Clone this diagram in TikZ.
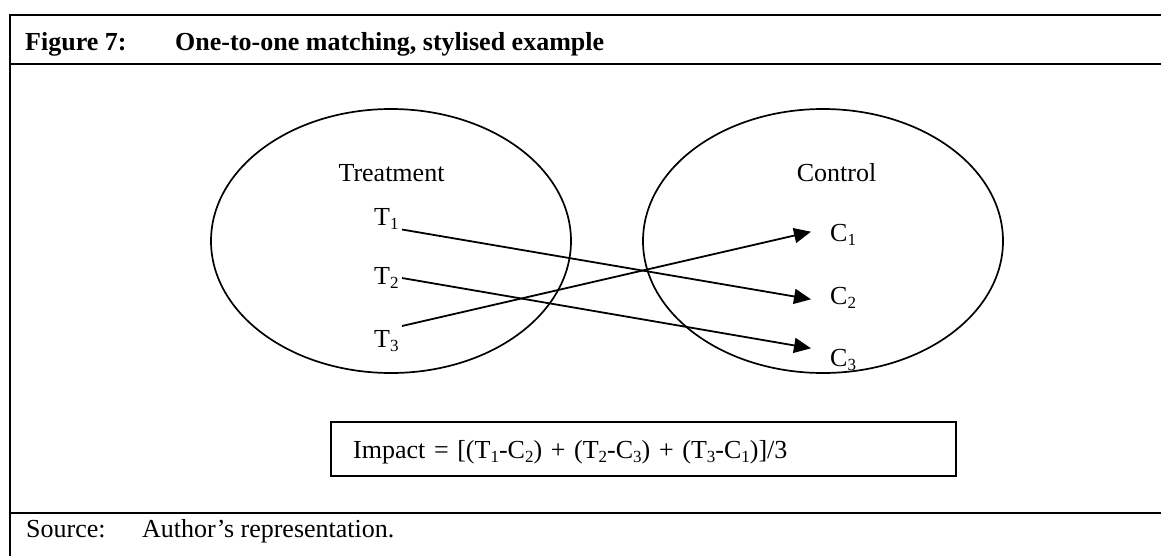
\documentclass[tikz,border=0pt]{standalone}
\usepackage{fontspec}
\setmainfont{Liberation Serif}
\usetikzlibrary{shapes.geometric,arrows.meta}
\newcommand{\sbs}[1]{\raisebox{-4pt}{\fontsize{17}{17}\selectfont #1}}
\begin{document}
\begin{tikzpicture}[x=1pt,y=-1pt,
  font=\fontsize{26}{30}\selectfont,
  txt/.style={inner sep=0pt, anchor=base west},
  ctxt/.style={inner sep=0pt, anchor=base},
  frameline/.style={line width=2.8pt},
  setshape/.style={draw, ellipse, line width=1.7pt, minimum width=360pt, minimum height=264pt, inner sep=0pt},
  link/.style={line width=1.8pt, -{Triangle[length=17pt,width=15pt]}},
  formulabox/.style={draw, line width=2.3pt, anchor=north west, inner xsep=22pt, inner ysep=0pt,
    minimum height=54pt, text width=581pt, align=left, text height=24pt, text depth=6pt}]
\useasboundingbox (0,0) rectangle (1161,555);
% frame
\draw[frameline] (1175,15) -- (10,15) -- (10,570);
\draw[frameline] (10,64) -- (1175,64);
\draw[frameline] (10,513) -- (1175,513);
% header and source
\node[txt, font=\fontsize{26}{30}\selectfont\bfseries] (fig) at (25,50) {Figure 7:};
\node[txt, font=\fontsize{26}{30}\selectfont\bfseries] (title) at (175,50) {One-to-one matching, stylised example};
\node[txt] (src) at (26,537) {Source:};
\node[txt] (srctext) at (142,537) {Author’s representation.};
% sets
\node[setshape] (treat) at (391,241) {};
\node[setshape] (ctrl) at (823,241) {};
\node[ctxt] (treatlbl) at (391.5,181) {Treatment};
\node[ctxt] (ctrllbl) at (836.5,181.5) {Control};
% members
\node[txt] (t1) at (374,225) {T\sbs{1}};
\node[txt] (t2) at (374,284) {T\sbs{2}};
\node[txt] (t3) at (374,347) {T\sbs{3}};
\node[txt] (c1) at (830,241.5) {C\sbs{1}};
\node[txt] (c2) at (830,304) {C\sbs{2}};
\node[txt] (c3) at (830,366) {C\sbs{3}};
% connector ends
\coordinate (t1s) at (402,229.5);
\coordinate (t2s) at (402,278);
\coordinate (t3s) at (402,326);
\coordinate (c1e) at (811,231.7);
\coordinate (c2e) at (811,299.3);
\coordinate (c3e) at (811,348.3);
\draw[link] (t1s) -- (c2e);
\draw[link] (t2s) -- (c3e);
\draw[link] (t3s) -- (c1e);
% formula
\node[formulabox] (impact) at (330,421) {Impact = [(T\sbs{1}-C\sbs{2}) + (T\sbs{2}-C\sbs{3}) + (T\sbs{3}-C\sbs{1})]/3};
\end{tikzpicture}
\end{document}
